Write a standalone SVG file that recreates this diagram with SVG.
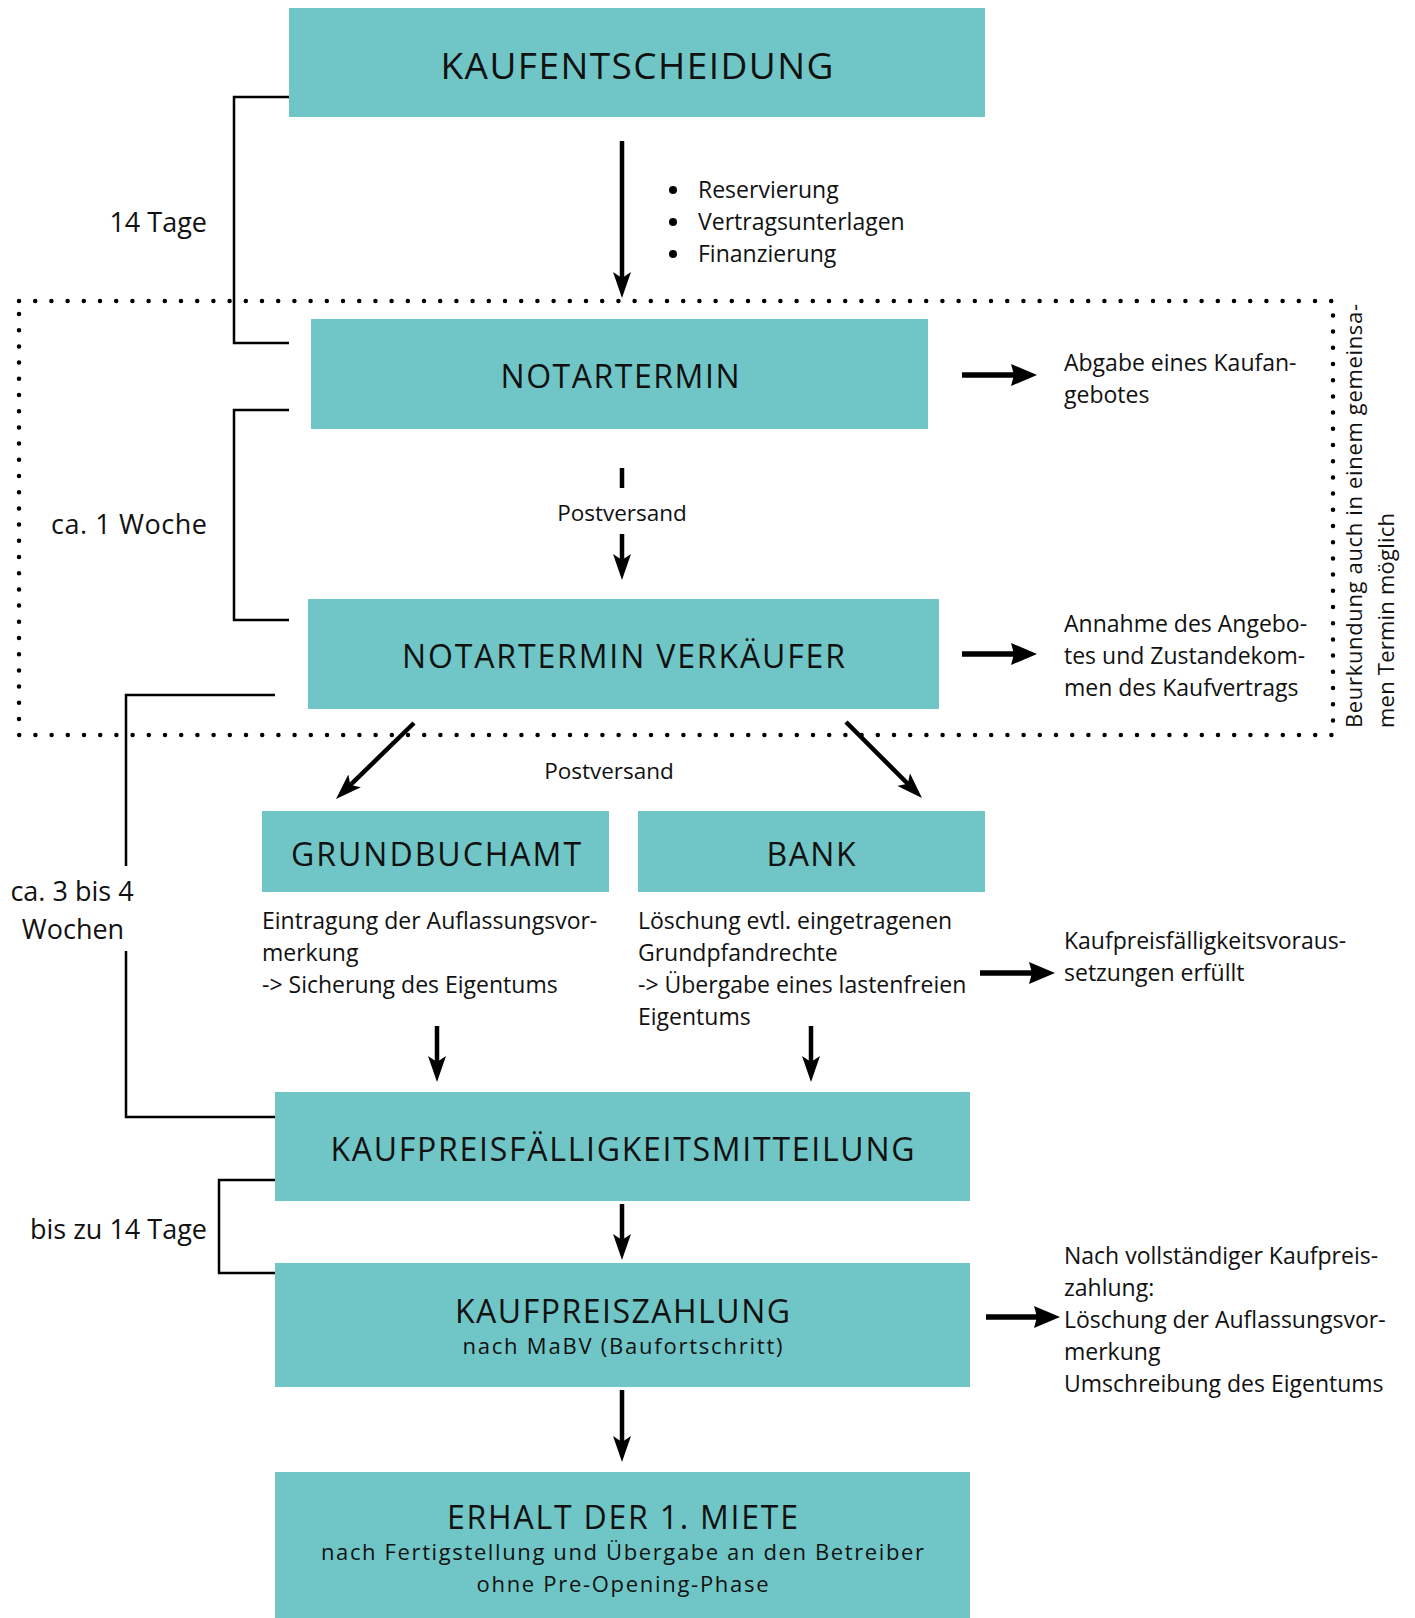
<svg xmlns="http://www.w3.org/2000/svg" width="1415" height="1618" viewBox="0 0 1415 1618">
<style>
.box{fill:#70C6C6;}
.h{font-family:"Open Sans","Liberation Sans",sans-serif;font-size:32px;fill:#111;text-anchor:middle;}
.s{font-family:"Open Sans","Liberation Sans",sans-serif;font-size:22px;fill:#111;text-anchor:middle;}
.t{font-family:"Open Sans","Liberation Sans",sans-serif;font-size:23px;fill:#111;}
.lab{font-family:"Open Sans","Liberation Sans",sans-serif;font-size:27px;fill:#111;}
.pv{font-family:"Open Sans","Liberation Sans",sans-serif;font-size:22.5px;fill:#111;text-anchor:middle;}
.ar{stroke:#000;stroke-width:4.5;fill:none;marker-end:url(#ah);}
.br{stroke:#000;stroke-width:4.5;fill:none;}
.bk{stroke:#000;stroke-width:2.5;fill:none;}
.blk{stroke:#000;stroke-width:5.5;fill:none;marker-end:url(#bh);}
.dot{stroke:#000;stroke-width:4.5;stroke-linecap:round;stroke-dasharray:0 16.2;fill:none;}
</style>
<defs>
<marker id="ah" markerUnits="userSpaceOnUse" viewBox="0 0 26 18" refX="14" refY="9" markerWidth="26" markerHeight="18" orient="auto">
<path d="M0,0 L26,9 L0,18 L6,9 Z" fill="#000"/>
</marker>
<marker id="bh" markerUnits="userSpaceOnUse" viewBox="0 0 26 22" refX="10" refY="11" markerWidth="26" markerHeight="22" orient="auto">
<path d="M0,0 L26,11 L0,22 L3,11 Z" fill="#000"/>
</marker>
</defs>

<rect x="0" y="0" width="1415" height="1618" fill="#fff"/>

<g id="frame">
<path class="dot" d="M19,301 H1333 V735 H19 Z"/>
</g>

<g id="n-kaufentscheidung">
<rect class="box" x="289" y="8" width="696" height="109"/>
<text class="h" x="637" y="79" style="font-size:37px" textLength="393" lengthAdjust="spacing">KAUFENTSCHEIDUNG</text>
</g>

<g id="n-bullets">
<circle cx="673" cy="190" r="4"/>
<circle cx="673" cy="222" r="4"/>
<circle cx="673" cy="254" r="4"/>
<text class="t" x="698" y="198">Reservierung</text>
<text class="t" x="698" y="230">Vertragsunterlagen</text>
<text class="t" x="698" y="262">Finanzierung</text>
</g>

<g id="n-notartermin">
<rect class="box" x="311" y="319" width="617" height="110"/>
<text class="h" x="620" y="388" textLength="239" lengthAdjust="spacing">NOTARTERMIN</text>
</g>

<g id="n-abgabe">
<text class="t" x="1064" y="371">Abgabe eines Kaufan-</text>
<text class="t" x="1064" y="403">gebotes</text>
</g>

<g id="n-verkaeufer">
<rect class="box" x="308" y="599" width="631" height="110"/>
<text class="h" x="623.5" y="668" textLength="443" lengthAdjust="spacing">NOTARTERMIN VERKÄUFER</text>
</g>

<g id="n-annahme">
<text class="t" x="1064" y="632">Annahme des Angebo-</text>
<text class="t" x="1064" y="664">tes und Zustandekom-</text>
<text class="t" x="1064" y="696">men des Kaufvertrags</text>
</g>

<g id="n-beurkundung">
<text class="t" transform="translate(1362,728) rotate(-90)" style="font-size:22px" textLength="424" lengthAdjust="spacing">Beurkundung auch in einem gemeinsa-</text>
<text class="t" transform="translate(1394,728) rotate(-90)" style="font-size:22px" textLength="215" lengthAdjust="spacing">men Termin möglich</text>
</g>

<g id="n-grundbuchamt">
<rect class="box" x="262" y="811" width="347" height="81"/>
<text class="h" x="436" y="866" textLength="290" lengthAdjust="spacing">GRUNDBUCHAMT</text>
<text class="t" x="262" y="929">Eintragung der Auflassungsvor-</text>
<text class="t" x="262" y="961">merkung</text>
<text class="t" x="262" y="993">-&gt; Sicherung des Eigentums</text>
</g>

<g id="n-bank">
<rect class="box" x="638" y="811" width="347" height="81"/>
<text class="h" x="811" y="866" textLength="89" lengthAdjust="spacing">BANK</text>
<text class="t" x="638" y="929">Löschung evtl. eingetragenen</text>
<text class="t" x="638" y="961">Grundpfandrechte</text>
<text class="t" x="638" y="993">-&gt; Übergabe eines lastenfreien</text>
<text class="t" x="638" y="1025">Eigentums</text>
</g>

<g id="n-voraussetzungen">
<text class="t" x="1064" y="949">Kaufpreisfälligkeitsvoraus-</text>
<text class="t" x="1064" y="981">setzungen erfüllt</text>
</g>

<g id="n-mitteilung">
<rect class="box" x="275" y="1092" width="695" height="109"/>
<text class="h" x="622.5" y="1161" textLength="584" lengthAdjust="spacing">KAUFPREISFÄLLIGKEITSMITTEILUNG</text>
</g>

<g id="n-zahlung">
<rect class="box" x="275" y="1263" width="695" height="124"/>
<text class="h" x="622.5" y="1323" textLength="335" lengthAdjust="spacing">KAUFPREISZAHLUNG</text>
<text class="s" x="622.5" y="1354" textLength="320" lengthAdjust="spacing">nach MaBV (Baufortschritt)</text>
</g>

<g id="n-nach">
<text class="t" x="1064" y="1264">Nach vollständiger Kaufpreis-</text>
<text class="t" x="1064" y="1296">zahlung:</text>
<text class="t" x="1064" y="1328">Löschung der Auflassungsvor-</text>
<text class="t" x="1064" y="1360">merkung</text>
<text class="t" x="1064" y="1392">Umschreibung des Eigentums</text>
</g>

<g id="n-miete">
<rect class="box" x="275" y="1472" width="695" height="146"/>
<text class="h" x="622.5" y="1529" textLength="351" lengthAdjust="spacing">ERHALT DER 1. MIETE</text>
<text class="s" x="622.5" y="1560" textLength="603" lengthAdjust="spacing">nach Fertigstellung und Übergabe an den Betreiber</text>
<text class="s" x="622.5" y="1592" textLength="292" lengthAdjust="spacing">ohne Pre-Opening-Phase</text>
</g>

<g id="labels">
<text class="lab" x="207" y="232" text-anchor="end">14 Tage</text>
<text class="lab" x="207" y="534" text-anchor="end" textLength="156" lengthAdjust="spacing">ca. 1 Woche</text>
<text class="lab" x="72" y="901" text-anchor="middle">ca. 3 bis 4</text>
<text class="lab" x="73" y="939" text-anchor="middle">Wochen</text>
<text class="lab" x="207" y="1239" text-anchor="end">bis zu 14 Tage</text>
<text class="pv" x="622" y="521">Postversand</text>
<text class="pv" x="609" y="779">Postversand</text>
</g>

<g id="connectors">
<path class="bk" d="M289,97 H234 V343 H289"/>
<path class="bk" d="M289,410 H234 V620 H289"/>
<path class="bk" d="M275,695 H126 V866"/>
<path class="bk" d="M126,951 V1117 H275"/>
<path class="bk" d="M275,1180 H219 V1273 H275"/>
<path class="ar" d="M622,141 V286"/>
<path class="br" d="M622,468 V488"/>
<path class="ar" d="M622,534 V568"/>
<path class="ar" d="M414,723 L344.6,790.6"/>
<path class="ar" d="M846,722 L913.5,789.5"/>
<path class="ar" d="M437,1026 V1070"/>
<path class="ar" d="M811,1026 V1070"/>
<path class="ar" d="M622,1204 V1248"/>
<path class="ar" d="M622,1390 V1450"/>
<path class="blk" d="M962,375 H1021"/>
<path class="blk" d="M962,654 H1021"/>
<path class="blk" d="M980,973 H1039"/>
<path class="blk" d="M986,1317 H1044"/>
</g>
</svg>
